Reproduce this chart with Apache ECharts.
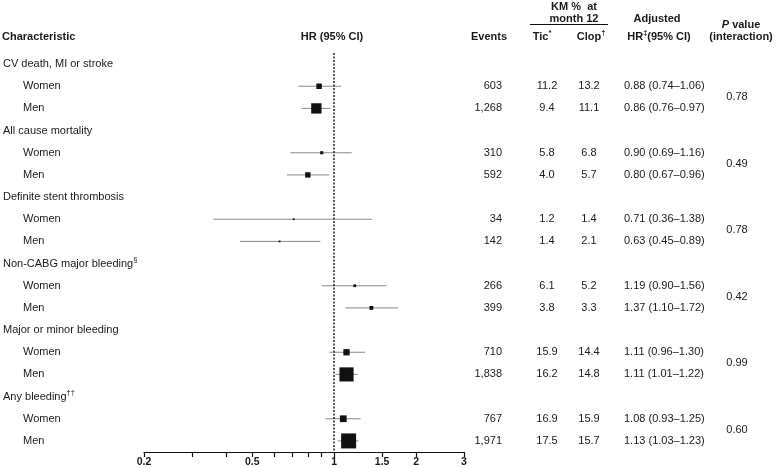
<!DOCTYPE html>
<html>
<head>
<meta charset="utf-8">
<script src="https://cdn.jsdelivr.net/npm/echarts@6/dist/echarts.min.js"></script>
<style>
html,body{margin:0;padding:0;background:#fff;}
#chart{width:777px;height:468px;}
</style>
</head>
<body>
<div id="chart"></div>
<script>
// ---- data ----
var outcomes = ['CV death, MI or stroke', 'All cause mortality', 'Definite stent thrombosis',
  'Non-CABG major bleeding', 'Major or minor bleeding', 'Any bleeding'];
var outcomeNotes = ['', '', '', '§', '', '††'];
var groups = ['Women', 'Men'];
// rows ordered: outcome1 Women, outcome1 Men, outcome2 Women, ...
var events = [603, 1268, 310, 592, 34, 142, 266, 399, 710, 1838, 767, 1971];
var kmTic = [11.2, 9.4, 5.8, 4.0, 1.2, 1.4, 6.1, 3.8, 15.9, 16.2, 16.9, 17.5];
var kmClop = [13.2, 11.1, 6.8, 5.7, 1.4, 2.1, 5.2, 3.3, 14.4, 14.8, 15.9, 15.7];
var hr = [0.88, 0.86, 0.90, 0.80, 0.71, 0.63, 1.19, 1.37, 1.11, 1.11, 1.08, 1.13];
var hrLow = [0.74, 0.76, 0.69, 0.67, 0.36, 0.45, 0.90, 1.10, 0.96, 1.01, 0.93, 1.03];
var hrHigh = [1.06, 0.97, 1.16, 0.96, 1.38, 0.89, 1.56, 1.72, 1.30, 1.22, 1.25, 1.23];
var pInteraction = ['0.78', '0.49', '0.78', '0.42', '0.99', '0.60'];
var tickValues = [0.2, 0.3, 0.4, 0.5, 0.6, 0.7, 0.8, 0.9, 1, 1.5, 2, 3];
var tickLabels = [0.2, 0.5, 1, 1.5, 2, 3];

// ---- build ----
var FONT = '"Liberation Sans", Arial, sans-serif';
var TXT = '#1a1a1a';
var rowIds = [];
outcomes.forEach(function (o, k) { rowIds.push('h' + k, 'w' + k, 'm' + k); });
function rowInfo(idx) {
  var k = Math.floor(idx / 3), r = idx % 3;
  return { k: k, r: r, d: r === 0 ? -1 : k * 2 + (r - 1) };
}
function fmtInt(n) { return String(n).replace(/\B(?=(\d{3})+(?!\d))/g, ','); }

var sqData = [], ciData = [];
for (var i = 0; i < hr.length; i++) {
  var row = Math.floor(i / 2) * 3 + 1 + (i % 2);
  sqData.push([hr[i], row, events[i]]);
  ciData.push([hrLow[i], hrHigh[i], row]);
}

function colAxis(offset, align, fn) {
  return {
    type: 'category', data: rowIds, inverse: true, position: 'right', offset: offset,
    axisLine: { show: false }, axisTick: { show: false }, splitLine: { show: false },
    axisLabel: {
      interval: 0, margin: 0, align: align, color: TXT, fontFamily: FONT, fontSize: 11,
      formatter: function (v, idx) { var f = rowInfo(idx); return f.d < 0 ? '' : fn(f.d); }
    }
  };
}

var rich = {
  t: { fontFamily: FONT, fontSize: 11, color: TXT },
  sub: { fontFamily: FONT, fontSize: 11, color: TXT, padding: [0, 0, 0, 20] },
  sup: { fontFamily: FONT, fontSize: 7.5, color: TXT, padding: [0, 0, 8, 0] }
};

function hText(x, y, text, align) {
  var r = {
    b: { fontFamily: FONT, fontSize: 11, fontWeight: 'bold', fill: TXT, color: TXT },
    bi: { fontFamily: FONT, fontSize: 11, fontWeight: 'bold', fontStyle: 'italic', fill: TXT, color: TXT },
    s: { fontFamily: FONT, fontSize: 7.5, fontWeight: 'bold', fill: TXT, color: TXT, padding: [0, 0, 8, 0] }
  };
  return {
    type: 'text', x: x, y: y,
    style: { text: text, rich: r, align: align || 'center', verticalAlign: 'middle',
      font: 'bold 11px ' + FONT, fill: TXT }
  };
}

var option = {
  animation: false,
  backgroundColor: '#fff',
  grid: { left: 143, right: 313, top: 53, height: 399 },
  xAxis: {
    type: 'log', logBase: 10, min: 0.2, max: 3,
    axisLine: { show: true, lineStyle: { color: '#111', width: 1.2 } },
    axisTick: { show: true, customValues: tickValues, length: 5, lineStyle: { color: '#111', width: 1.2 } },
    minorTick: { show: false },
    splitLine: { show: false },
    axisLabel: {
      customValues: tickLabels, margin: 5, color: TXT, fontFamily: FONT, fontSize: 10.5, fontWeight: 'bold',
      formatter: function (v) { return String(+(+v).toFixed(2)); }
    }
  },
  yAxis: [
    {
      type: 'category', data: rowIds, inverse: true,
      axisLine: { show: false }, axisTick: { show: false }, splitLine: { show: false },
      axisLabel: {
        interval: 0, margin: 141, align: 'left', rich: rich,
        formatter: function (v, idx) {
          var f = rowInfo(idx);
          if (f.r === 0) return '{t|' + outcomes[f.k] + '}' + (outcomeNotes[f.k] ? '{sup|' + outcomeNotes[f.k] + '}' : '');
          return '{sub|' + groups[f.r - 1] + '}';
        }
      }
    },
    colAxis(38, 'right', function (d) { return fmtInt(events[d]); }),
    colAxis(83, 'center', function (d) { return kmTic[d].toFixed(1); }),
    colAxis(125, 'center', function (d) { return kmClop[d].toFixed(1); }),
    colAxis(160, 'left', function (d) {
      return hr[d].toFixed(2) + ' (' + hrLow[d].toFixed(2) + '–' + hrHigh[d].toFixed(2) + ')';
    }),
    {
      type: 'category', data: outcomes, inverse: true, position: 'right', offset: 273,
      axisLine: { show: false }, axisTick: { show: false }, splitLine: { show: false },
      axisLabel: {
        interval: 0, margin: 0, align: 'center',
        rich: { p: { fontFamily: FONT, fontSize: 11, color: TXT, padding: [22, 0, 0, 0] } },
        formatter: function (v, idx) { return '{p|' + pInteraction[idx] + '}'; }
      }
    }
  ],
  graphic: [
    hText(2, 37, '{b|Characteristic}', 'left'),
    hText(332, 37, '{b|HR (95% CI)}'),
    hText(489, 37, '{b|Events}'),
    hText(574, 7, '{b|KM %  at}'),
    hText(574, 19, '{b|month 12}'),
    { type: 'line', shape: { x1: 530, y1: 24.5, x2: 608, y2: 24.5 }, style: { stroke: '#111', lineWidth: 1 } },
    hText(542, 37, '{b|Tic}{s|*}'),
    hText(591, 37, '{b|Clop}{s|†}'),
    hText(657, 19, '{b|Adjusted}'),
    hText(659, 37, '{b|HR}{s|‡}{b|(95% CI)}'),
    hText(741, 25, '{bi|P}{b| value}'),
    hText(741, 37, '{b|(interaction)}')
  ],
  series: [
    {
      type: 'custom', xAxisIndex: 0, yAxisIndex: 0, data: ciData, z: 2,
      encode: { x: [0, 1], y: 2 },
      renderItem: function (params, api) {
        var y = api.value(2);
        var p1 = api.coord([api.value(0), y]);
        var p2 = api.coord([api.value(1), y]);
        return { type: 'line', shape: { x1: p1[0], y1: p1[1], x2: p2[0], y2: p2[1] },
          style: { stroke: '#8a8a8a', lineWidth: 1 } };
      }
    },
    {
      type: 'scatter', xAxisIndex: 0, yAxisIndex: 0, data: sqData, z: 3,
      symbol: 'rect',
      symbolSize: function (v) { return Math.max(1.8, 15 * Math.pow(v[2] / 1971, 0.85)); },
      itemStyle: { color: '#111', opacity: 1 },
      markLine: {
        silent: true, symbol: 'none', label: { show: false },
        lineStyle: { type: [2, 1.5], color: '#222', width: 1.5 },
        data: [{ xAxis: 1 }]
      }
    }
  ]
};

var chart = echarts.init(document.getElementById('chart'), null, { renderer: 'canvas' });
chart.setOption(option);
</script>
</body>
</html>
